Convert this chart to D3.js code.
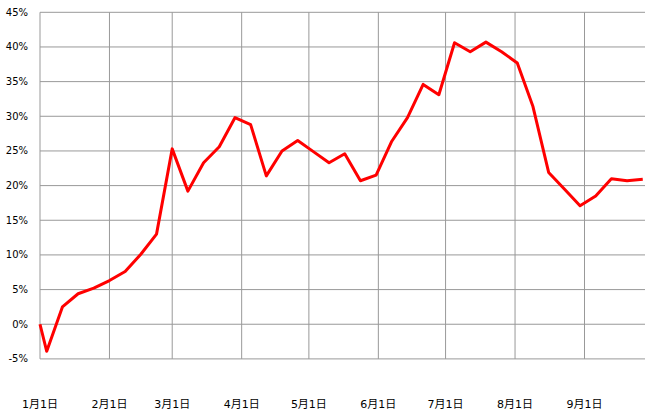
<!DOCTYPE html>
<html>
<head>
<meta charset="utf-8">
<script src="https://cdn.jsdelivr.net/npm/d3@7/dist/d3.min.js"></script>
<style>
  html, body { margin: 0; padding: 0; background: #fff; }
  svg { display: block; }
</style>
</head>
<body>
<svg id="chart" width="650" height="418"></svg>
<script>
// ---- data ----
const dates = [
  "2021-01-01","2021-01-04","2021-01-11","2021-01-18","2021-01-25",
  "2021-02-01","2021-02-08","2021-02-15","2021-02-22","2021-03-01",
  "2021-03-08","2021-03-15","2021-03-22","2021-03-29","2021-04-05",
  "2021-04-12","2021-04-19","2021-04-26","2021-05-03","2021-05-10",
  "2021-05-17","2021-05-24","2021-05-31","2021-06-07","2021-06-14",
  "2021-06-21","2021-06-28","2021-07-05","2021-07-12","2021-07-19",
  "2021-07-26","2021-08-02","2021-08-09","2021-08-16","2021-08-23",
  "2021-08-30","2021-09-06","2021-09-13","2021-09-20","2021-09-27"
];
const values = [
  0.0, -3.9, 2.5, 4.4, 5.2,
  6.3, 7.6, 10.1, 13.0, 25.3,
  19.2, 23.3, 25.6, 29.8, 28.8,
  21.4, 25.0, 26.5, 24.9, 23.3,
  24.6, 20.7, 21.5, 26.4, 29.8,
  34.6, 33.1, 40.6, 39.3, 40.7,
  39.3, 37.7, 31.4, 21.9, 19.5,
  17.1, 18.5, 21.0, 20.7, 20.9
];
const monthTicks = ["2021-01-01","2021-02-01","2021-03-01","2021-04-01","2021-05-01","2021-06-01","2021-07-01","2021-08-01","2021-09-01"];
const monthLabels = ["1月1日","2月1日","3月1日","4月1日","5月1日","6月1日","7月1日","8月1日","9月1日"];
const yTicks = [-5, 0, 5, 10, 15, 20, 25, 30, 35, 40, 45];
const domainStart = "2021-01-01";
const domainEnd = "2021-09-28";

// ---- chart ----
(function () {
  const parse = d3.timeParse("%Y-%m-%d");
  const svg = d3.select("#chart");
  const mLeft = 40, mRight = 645, mTop = 12.3, mBottom = 358.9;

  const x = d3.scaleTime().domain([parse(domainStart), parse(domainEnd)]).range([mLeft, mRight]);
  const y = d3.scaleLinear().domain([-5, 45]).range([mBottom, mTop]);

  const grid = svg.append("g");
  const gridColor = "#999999";

  grid.selectAll("line.h").data(yTicks).join("line")
    .attr("class", "h")
    .attr("x1", mLeft).attr("x2", mRight)
    .attr("y1", d => y(d)).attr("y2", d => y(d))
    .attr("stroke", gridColor).attr("stroke-width", 1);

  grid.selectAll("line.v").data(monthTicks).join("line")
    .attr("class", "v")
    .attr("x1", d => x(parse(d))).attr("x2", d => x(parse(d)))
    .attr("y1", mTop).attr("y2", mBottom)
    .attr("stroke", gridColor).attr("stroke-width", 1);

  // y labels
  svg.append("g").selectAll("text").data(yTicks).join("text")
    .attr("x", 28).attr("y", d => y(d))
    .attr("dy", "0.35em")
    .attr("text-anchor", "end")
    .attr("font-family", "'DejaVu Sans', Verdana, sans-serif")
    .attr("font-size", 10)
    .attr("fill", "#000")
    .text(d => d + "%");

  // x labels
  svg.append("g").selectAll("text").data(monthTicks).join("text")
    .attr("x", d => x(parse(d)))
    .attr("y", 408)
    .attr("text-anchor", "middle")
    .attr("font-family", "'DejaVu Sans', 'Noto Sans CJK JP', sans-serif")
    .attr("font-size", 11)
    .attr("fill", "#000")
    .text((d, i) => monthLabels[i]);

  // line
  const pts = dates.map((d, i) => ({ date: parse(d), v: values[i] }));
  const line = d3.line().x(d => x(d.date)).y(d => y(d.v));
  svg.append("path")
    .datum(pts)
    .attr("d", line)
    .attr("fill", "none")
    .attr("stroke", "#ff0000")
    .attr("stroke-width", 3)
    .attr("stroke-linejoin", "round");
})();
</script>
</body>
</html>
